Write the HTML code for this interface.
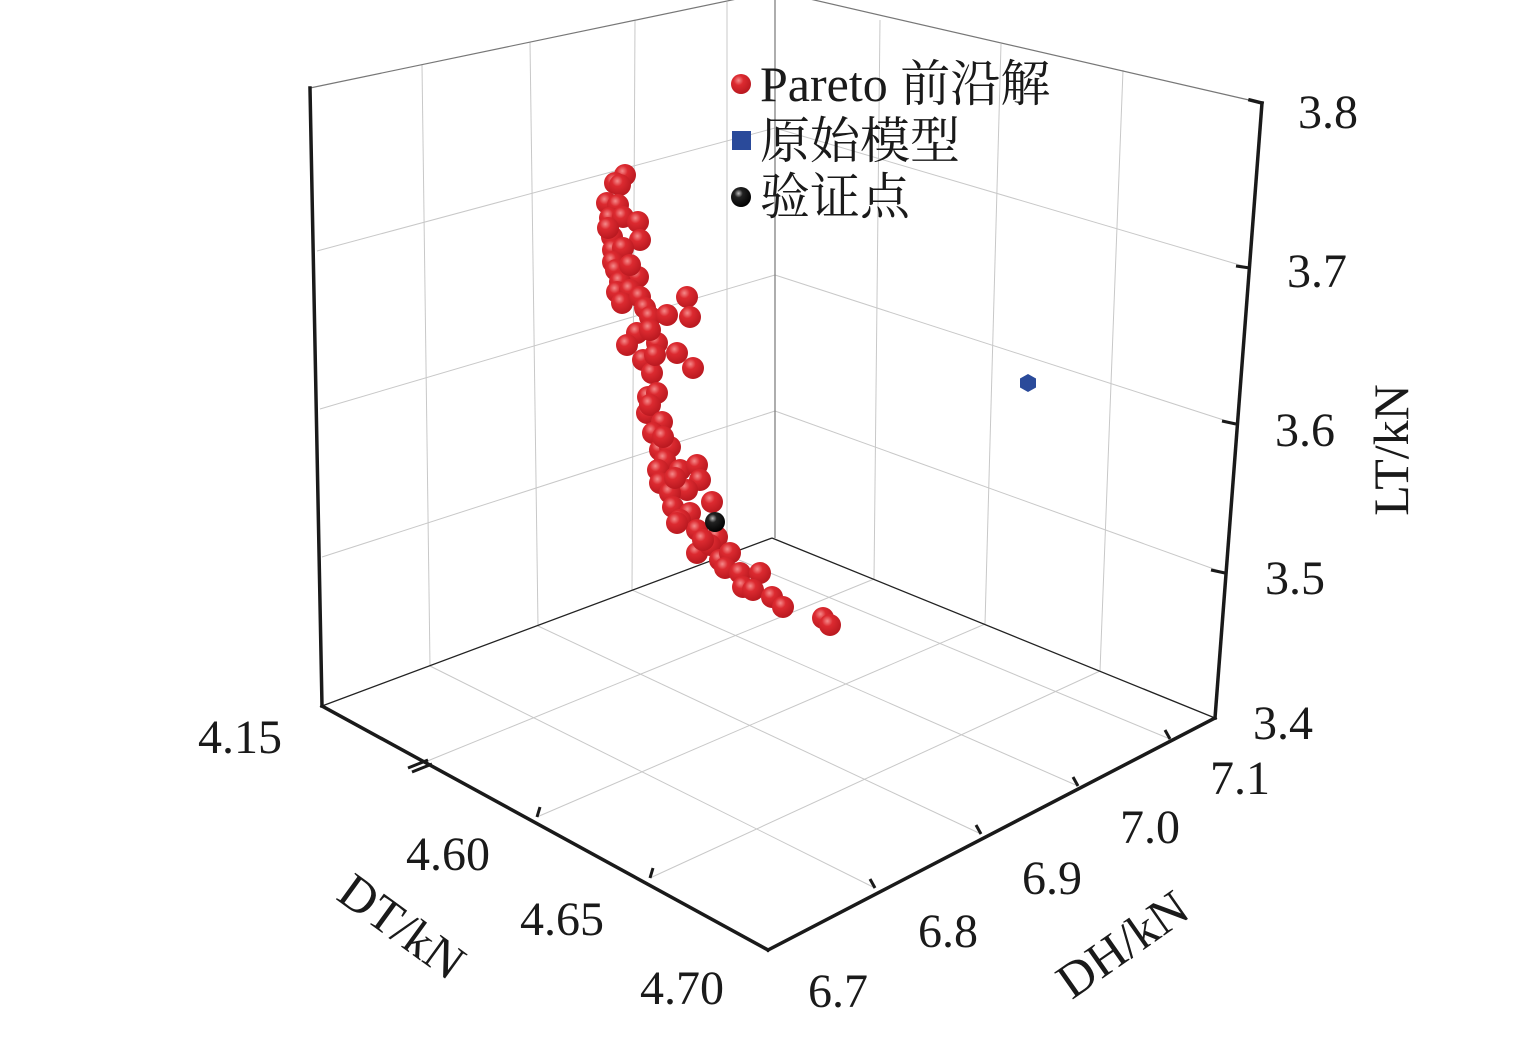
<!DOCTYPE html>
<html><head><meta charset="utf-8"><style>
html,body{margin:0;padding:0;background:#fff;}
svg{display:block;}
text{font-family:"Liberation Serif","Noto Serif CJK SC","Noto Sans CJK SC",serif;fill:#1a1a1a;}
</style></head><body>
<svg width="1535" height="1051" viewBox="0 0 1535 1051" xmlns="http://www.w3.org/2000/svg">
<defs>
<radialGradient id="rg" cx="0.38" cy="0.32" r="0.7">
<stop offset="0" stop-color="#f58a8a"/><stop offset="0.35" stop-color="#dc2a30"/><stop offset="1" stop-color="#b8181f"/>
</radialGradient>
<radialGradient id="kg" cx="0.38" cy="0.32" r="0.7">
<stop offset="0" stop-color="#bbbbbb"/><stop offset="0.3" stop-color="#222"/><stop offset="1" stop-color="#000"/>
</radialGradient>
</defs>
<g stroke="#c8c8c8" stroke-width="1" fill="none">
<line x1="430" y1="666" x2="422" y2="65"/>
<line x1="538" y1="626" x2="530" y2="42"/>
<line x1="632" y1="590" x2="635" y2="20"/>
<line x1="727" y1="555" x2="727" y2="2"/>
<line x1="322" y1="557" x2="775" y2="411"/>
<line x1="320" y1="409" x2="775" y2="275"/>
<line x1="317" y1="251" x2="775" y2="128"/>
<line x1="775" y1="411" x2="1225" y2="573"/>
<line x1="775" y1="275" x2="1236" y2="424"/>
<line x1="775" y1="128" x2="1250" y2="268"/>
<line x1="874" y1="579" x2="880" y2="20"/>
<line x1="985" y1="624" x2="1001" y2="44"/>
<line x1="1100" y1="671" x2="1123" y2="70"/>
<line x1="430" y1="666" x2="875" y2="888"/>
<line x1="538" y1="626" x2="981" y2="834"/>
<line x1="632" y1="590" x2="1078" y2="786"/>
<line x1="727" y1="555" x2="1170" y2="739"/>
<line x1="425" y1="762" x2="874" y2="579"/>
<line x1="537" y1="817" x2="985" y2="624"/>
<line x1="650" y1="878" x2="1100" y2="671"/>
</g>
<g stroke="#777" stroke-width="1.2" fill="none">
<line x1="775" y1="0" x2="775" y2="538"/>
<line x1="310" y1="88" x2="775" y2="-9"/>
<line x1="775" y1="-9" x2="1262" y2="103"/>
</g>
<g stroke="#222" stroke-width="1.3" fill="none">
<line x1="322" y1="706" x2="772" y2="538"/>
<line x1="772" y1="538" x2="1215" y2="718"/>
</g>
<g stroke="#1a1a1a" stroke-width="3.5" fill="none" stroke-linecap="square">
<line x1="310" y1="88" x2="322" y2="706"/>
<line x1="322" y1="706" x2="768" y2="950"/>
<line x1="768" y1="950" x2="1215" y2="718"/>
<line x1="1215" y1="718" x2="1262" y2="103"/>
<line x1="1262" y1="103" x2="1250" y2="100"/>
</g>
<g stroke="#1a1a1a" stroke-width="3" fill="none">
<line x1="1250" y1="268" x2="1236" y2="266"/>
<line x1="1236" y1="424" x2="1222" y2="421"/>
<line x1="1225" y1="573" x2="1211" y2="570"/>
<line x1="537" y1="817" x2="540" y2="807"/>
<line x1="650" y1="878" x2="653" y2="868"/>
<line x1="875" y1="888" x2="870" y2="879"/>
<line x1="981" y1="834" x2="976" y2="825"/>
<line x1="1078" y1="786" x2="1073" y2="777"/>
<line x1="1170" y1="739" x2="1165" y2="730"/>
<line x1="408" y1="768" x2="428" y2="760"/>
<line x1="412" y1="772" x2="432" y2="764"/>
</g>
<g font-size="48" text-anchor="middle">
<text x="1328" y="128">3.8</text>
<text x="1317" y="287">3.7</text>
<text x="1305" y="446">3.6</text>
<text x="1295" y="594">3.5</text>
<text x="1283" y="739">3.4</text>
<text x="240" y="753">4.15</text>
<text x="448" y="870">4.60</text>
<text x="562" y="935">4.65</text>
<text x="682" y="1004">4.70</text>
<text x="838" y="1007">6.7</text>
<text x="948" y="947">6.8</text>
<text x="1052" y="894">6.9</text>
<text x="1150" y="843">7.0</text>
<text x="1240" y="794">7.1</text>
</g>
<text font-size="50" text-anchor="middle" transform="translate(1408,450) rotate(-90)">LT/kN</text>
<text font-size="50" text-anchor="middle" transform="translate(392,940) rotate(36)">DT/kN</text>
<text font-size="50" text-anchor="middle" transform="translate(1132,958) rotate(-35)">DH/kN</text>
<circle cx="741" cy="84" r="10" fill="url(#rg)"/>
<text x="760" y="101" font-size="50">Pareto 前沿解</text>
<rect x="732" y="131" width="19" height="19" fill="#2a4a9a"/>
<text x="760" y="158" font-size="50">原始模型</text>
<circle cx="741" cy="197" r="10" fill="url(#kg)"/>
<text x="760" y="214" font-size="50">验证点</text>
<polygon points="1028,374 1036,378.5 1036,387.5 1028,392 1020,387.5 1020,378.5" fill="#2a4a9a"/>
<g fill="url(#rg)">
<circle cx="625" cy="175" r="11"/><circle cx="615" cy="183" r="11"/><circle cx="620" cy="185" r="11"/>
<circle cx="607" cy="203" r="11"/><circle cx="618" cy="205" r="11"/><circle cx="610" cy="218" r="11"/>
<circle cx="623" cy="217" r="11"/><circle cx="638" cy="222" r="11"/><circle cx="612" cy="237" r="11"/>
<circle cx="640" cy="240" r="11"/><circle cx="613" cy="250" r="11"/><circle cx="623" cy="248" r="11"/>
<circle cx="613" cy="262" r="11"/><circle cx="616" cy="270" r="11"/><circle cx="638" cy="277" r="11"/>
<circle cx="620" cy="282" r="11"/><circle cx="617" cy="292" r="11"/><circle cx="630" cy="290" r="11"/>
<circle cx="622" cy="303" r="11"/><circle cx="640" cy="297" r="11"/><circle cx="645" cy="308" r="11"/>
<circle cx="650" cy="317" r="11"/><circle cx="667" cy="315" r="11"/><circle cx="687" cy="297" r="11"/>
<circle cx="690" cy="317" r="11"/><circle cx="637" cy="333" r="11"/><circle cx="627" cy="345" r="11"/>
<circle cx="657" cy="343" r="11"/><circle cx="643" cy="360" r="11"/><circle cx="650" cy="330" r="11"/>
<circle cx="677" cy="353" r="11"/><circle cx="652" cy="373" r="11"/><circle cx="693" cy="368" r="11"/>
<circle cx="648" cy="397" r="11"/><circle cx="657" cy="393" r="11"/><circle cx="647" cy="413" r="11"/>
<circle cx="650" cy="405" r="11"/><circle cx="662" cy="422" r="11"/><circle cx="653" cy="433" r="11"/>
<circle cx="660" cy="450" r="11"/><circle cx="670" cy="447" r="11"/><circle cx="665" cy="460" r="11"/>
<circle cx="658" cy="470" r="11"/><circle cx="680" cy="470" r="11"/><circle cx="697" cy="465" r="11"/>
<circle cx="700" cy="480" r="11"/><circle cx="660" cy="483" r="11"/><circle cx="687" cy="490" r="11"/>
<circle cx="670" cy="493" r="11"/><circle cx="712" cy="502" r="11"/><circle cx="673" cy="507" r="11"/>
<circle cx="690" cy="513" r="11"/><circle cx="680" cy="520" r="11"/><circle cx="697" cy="530" r="11"/>
<circle cx="677" cy="523" r="11"/><circle cx="717" cy="537" r="11"/><circle cx="697" cy="553" r="11"/>
<circle cx="710" cy="545" r="11"/><circle cx="720" cy="560" r="11"/><circle cx="730" cy="553" r="11"/>
<circle cx="725" cy="568" r="11"/><circle cx="740" cy="573" r="11"/><circle cx="760" cy="573" r="11"/>
<circle cx="743" cy="587" r="11"/><circle cx="753" cy="590" r="11"/><circle cx="772" cy="597" r="11"/>
<circle cx="783" cy="607" r="11"/><circle cx="823" cy="618" r="11"/><circle cx="830" cy="625" r="11"/>
<circle cx="608" cy="228" r="11"/><circle cx="630" cy="265" r="11"/><circle cx="655" cy="355" r="11"/>
<circle cx="663" cy="437" r="11"/><circle cx="675" cy="478" r="11"/><circle cx="703" cy="540" r="11"/>
</g>
<circle cx="715" cy="522" r="10" fill="url(#kg)"/>
</svg>
</body></html>
